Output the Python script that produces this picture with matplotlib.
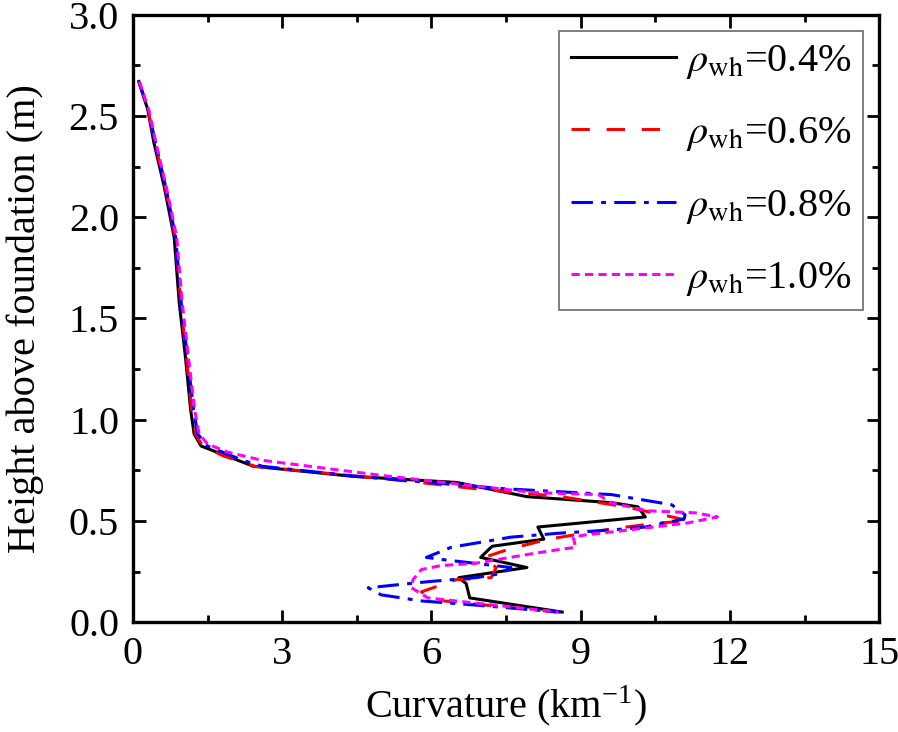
import numpy as np
import matplotlib
matplotlib.use('Agg')
import matplotlib.pyplot as plt
from matplotlib.ticker import MultipleLocator, AutoMinorLocator

plt.rcParams['font.family'] = 'Liberation Serif'
plt.rcParams['mathtext.fontset'] = 'stix'

# curvature (km^-1) vs height (m)
y_04 = [2.67, 2.53, 2.37, 2.15, 1.90, 1.58, 1.30, 1.05, 0.93, 0.87, 0.77, 0.72, 0.69, 0.62, 0.59, 0.57, 0.52,
        0.47, 0.41, 0.375, 0.32, 0.27, 0.22, 0.19, 0.12, 0.05]
x_04 = [0.12, 0.30, 0.42, 0.63, 0.83, 0.93, 1.06, 1.16, 1.23, 1.37, 2.42, 4.43, 6.51, 7.92, 9.63, 10.15, 10.30,
        8.14, 8.26, 7.22, 6.99, 7.92, 6.55, 6.70, 6.77, 8.63]

y_06 = [2.67, 2.53, 2.37, 2.15, 1.90, 1.58, 1.30, 1.05, 0.93, 0.87, 0.82, 0.77, 0.70, 0.66, 0.62, 0.57, 0.50,
        0.49, 0.46, 0.41, 0.36, 0.32, 0.27, 0.22, 0.21, 0.15, 0.11, 0.05]
x_06 = [0.12, 0.30, 0.44, 0.65, 0.85, 0.96, 1.08, 1.18, 1.26, 1.40, 1.83, 2.45, 5.40, 6.86, 8.60, 9.90, 11.20,
        10.56, 9.60, 8.35, 7.55, 7.06, 7.30, 7.20, 6.50, 5.80, 6.05, 8.50]

y_08 = [2.67, 2.53, 2.37, 2.15, 1.90, 1.58, 1.30, 1.05, 0.93, 0.87, 0.80, 0.77, 0.72, 0.66, 0.63, 0.58, 0.53,
        0.51, 0.47, 0.455, 0.44, 0.42, 0.37, 0.32, 0.31, 0.27, 0.24, 0.22, 0.20, 0.17, 0.135, 0.105, 0.085, 0.05]
x_08 = [0.12, 0.31, 0.45, 0.66, 0.86, 0.97, 1.10, 1.22, 1.30, 1.50, 2.20, 2.60, 4.50, 7.40, 9.62, 10.83, 11.10,
        11.08, 10.30, 9.60, 8.60, 7.60, 6.40, 5.90, 6.20, 7.60, 7.40, 6.90, 5.93, 4.73, 4.99, 5.80, 6.86, 8.60]

y_10 = [2.67, 2.53, 2.37, 2.15, 1.90, 1.58, 1.30, 1.05, 0.93, 0.88, 0.84, 0.80, 0.725, 0.64, 0.63, 0.59, 0.55,
        0.54, 0.52, 0.49, 0.455, 0.43, 0.42, 0.37, 0.36, 0.34, 0.29, 0.28, 0.26, 0.21, 0.17, 0.12, 0.05]
x_10 = [0.13, 0.32, 0.46, 0.67, 0.88, 0.99, 1.12, 1.24, 1.33, 1.50, 1.90, 2.58, 4.99, 8.07, 9.36, 9.60, 10.35,
        11.30, 11.75, 11.15, 9.95, 9.07, 8.85, 8.90, 8.60, 8.07, 6.86, 6.20, 5.80, 5.63, 5.60, 5.93, 8.55]

fig = plt.figure(figsize=(8.98, 7.32), dpi=100)
ax = fig.add_axes([0.148, 0.150, 0.831, 0.830])

lw = 2.2
ax.plot(x_04, y_04, color='black', lw=lw, ls='-', label=r'$\rho_{\mathrm{wh}}$=0.4%')
ax.plot(x_06, y_06, color='red', lw=lw, ls=(0, (6, 5.5)), label=r'$\rho_{\mathrm{wh}}$=0.6%')
ax.plot(x_08, y_08, color='blue', lw=lw, ls=(0, (7, 2.7, 1.6, 2.7)), label=r'$\rho_{\mathrm{wh}}$=0.8%')
ax.plot(x_10, y_10, color='magenta', lw=lw, ls=(0, (2.7, 1.7)), label=r'$\rho_{\mathrm{wh}}$=1.0%')

ax.set_xlim(0, 15)
ax.set_ylim(0, 3.0)
ax.xaxis.set_major_locator(MultipleLocator(3))
ax.xaxis.set_minor_locator(AutoMinorLocator(2))
ax.yaxis.set_major_locator(MultipleLocator(0.5))
ax.yaxis.set_minor_locator(AutoMinorLocator(2))
ax.yaxis.set_major_formatter(matplotlib.ticker.FormatStrFormatter('%.1f'))

ax.tick_params(which='both', direction='in', top=True, right=True, labelsize=29, width=2)
ax.tick_params(which='major', length=9, pad=10)
ax.tick_params(which='minor', length=5)
for s in ax.spines.values():
    s.set_linewidth(2.4)

ax.set_xlabel('Curvature (km$^{\\mathregular{-1}}$)', fontsize=29, labelpad=7)
ax.set_ylabel('Height above foundation (m)', fontsize=29, labelpad=18)

leg = ax.legend(loc='upper right', fontsize=29, frameon=True, fancybox=False, handlelength=2.6,
                borderpad=0.3, labelspacing=0.85, handletextpad=0.25, borderaxespad=0.4)
leg.get_frame().set_edgecolor('#444444')
leg.get_frame().set_linewidth(1.2)

fig.savefig('out.png', dpi=100)
